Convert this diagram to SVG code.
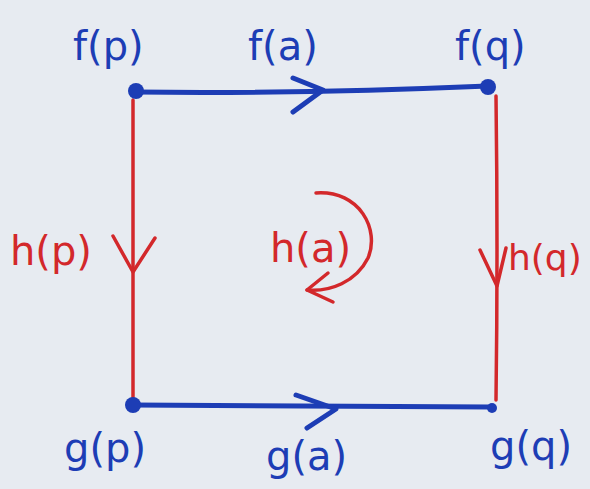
<svg xmlns="http://www.w3.org/2000/svg" width="590" height="489" viewBox="0 0 590 489">
<style>
.blue{fill:#1d3db5;font-family:"DejaVu Sans","Liberation Sans",sans-serif;font-size:40px}
.red{fill:#d3282b;font-family:"DejaVu Sans","Liberation Sans",sans-serif;font-size:40px}
.bl{stroke:#1d3db5;stroke-width:5;fill:none;stroke-linecap:round;stroke-linejoin:round}
.rl{stroke:#d3282b;stroke-width:3.5;fill:none;stroke-linecap:round;stroke-linejoin:round}
.dot{fill:#1d3db5}
</style>
<rect width="590" height="489" fill="#e7ebf1"/>
<g id="connectors">
<path class="bl" d="M136,92 Q300,94 488,86"/>
<path class="bl" d="M293,78 L323,90 L293,112"/>
<path class="rl" d="M133,100 L133,400"/>
<path class="rl" d="M113,236 L133,272 L155,238"/>
<path class="rl" d="M496,96 Q498,250 496,400"/>
<path class="rl" d="M480,250 L497,286 L506,248"/>
<path class="bl" d="M133,405 Q320,406 490,407"/>
<path class="bl" d="M296,395 L336,409 L307,428"/>
<path class="rl" d="M316,193 C360,190 380,230 368,258 C356,282 330,292 307,290"/>
<path class="rl" d="M328,273 L307,290 L333,302"/>
</g>
<g id="fp"><circle class="dot" cx="136" cy="91" r="8"/><text class="blue" x="73" y="60">f(p)</text></g>
<g id="fq"><circle class="dot" cx="488" cy="87" r="8"/><text class="blue" x="455" y="60">f(q)</text></g>
<g id="gp"><circle class="dot" cx="133" cy="405" r="8"/><text class="blue" x="64" y="462">g(p)</text></g>
<g id="gq"><circle class="dot" cx="492" cy="408" r="5"/><text class="blue" x="490" y="460">g(q)</text></g>
<g id="labels">
<text class="blue" x="248" y="60">f(a)</text>
<text class="blue" x="266" y="470">g(a)</text>
<text class="red" x="10" y="265">h(p)</text>
<text class="red" x="270" y="262">h(a)</text>
<text class="red" x="508" y="270" style="font-size:36px">h(q)</text>
</g>
</svg>
